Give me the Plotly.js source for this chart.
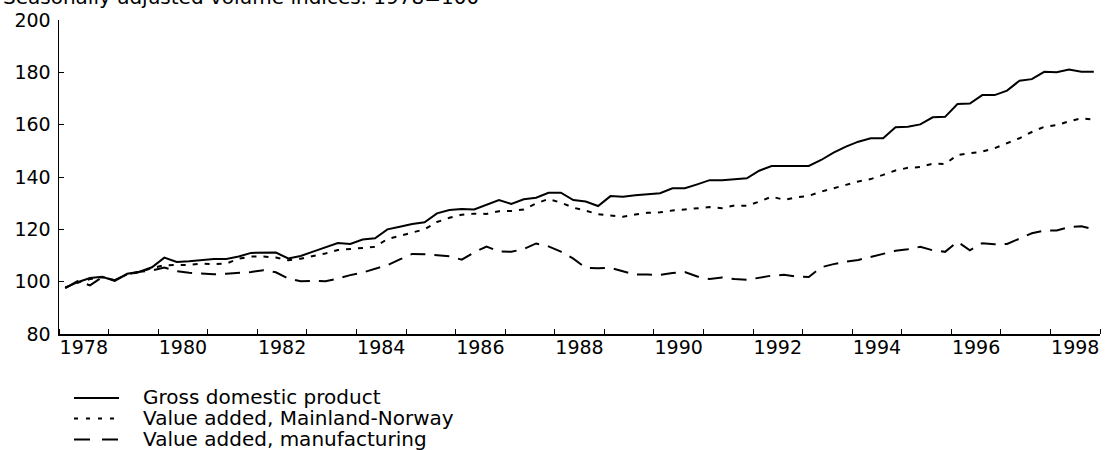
<!DOCTYPE html>
<html>
<head>
<meta charset="utf-8">
<script src="https://cdn.plot.ly/plotly-3.0.1.min.js"></script>
<style>
  html, body { margin: 0; padding: 0; background: #fff; }
  #chart { width: 1105px; height: 450px; }
</style>
</head>
<body>
<div id="chart"></div>
<script>
// ---- Data (quarterly, 1978Q1 - 1998Q4), seasonally adjusted volume indices, 1978=100 ----
const startYear = 1978;
const quartersPerYear = 4;

const gdp = [
  97.6, 99.8, 101.4, 101.9, 100.3, 103.0, 103.8, 105.5,
  109.2, 107.5, 107.8, 108.3, 108.7, 108.7, 109.6, 111.0,
  111.1, 111.1, 108.9, 109.8, 111.5, 113.0, 114.8, 114.4,
  116.1, 116.6, 120.0, 121.0, 122.0, 122.7, 126.1, 127.4,
  127.8, 127.6, 129.3, 131.2, 129.7, 131.5, 132.1, 134.0,
  134.0, 131.2, 130.6, 128.9, 132.7, 132.5, 133.0, 133.5,
  133.8, 135.7, 135.7, 137.2, 138.8, 138.8, 139.1, 139.5,
  142.4, 144.2, 144.2, 144.2, 144.2, 146.5, 149.3, 151.6,
  153.5, 154.8, 154.8, 159.0, 159.2, 160.1, 162.8, 163.0,
  167.9, 168.1, 171.3, 171.3, 173.0, 176.8, 177.4, 180.2,
  180.0, 181.1, 180.2, 180.2
];

const mainland = [
  97.8, 99.6, 101.0, 101.7, 100.5, 102.8, 103.6, 105.2,
  106.3, 106.4, 106.4, 106.9, 106.7, 106.9, 108.8, 109.6,
  109.6, 109.2, 108.2, 108.8, 109.8, 110.8, 112.1, 112.5,
  112.9, 113.3, 116.3, 117.6, 118.8, 120.0, 122.8, 124.4,
  125.6, 126.0, 125.9, 126.9, 127.0, 127.6, 129.9, 131.6,
  130.2, 128.3, 127.1, 125.8, 125.3, 124.8, 125.7, 126.3,
  126.5, 127.2, 127.6, 128.0, 128.5, 128.1, 129.1, 129.0,
  130.6, 132.5, 131.3, 132.2, 132.8, 134.4, 135.6, 137.0,
  138.3, 139.2, 140.8, 142.5, 143.5, 143.8, 145.1, 145.0,
  148.4, 149.0, 149.7, 151.0, 152.8, 154.8, 157.2, 159.2,
  159.8, 161.3, 162.4, 162.0
];

const manufacturing = [
  97.5, 100.2, 98.6, 101.8, 100.6, 102.8, 103.8, 104.3,
  105.4, 104.0, 103.4, 103.0, 102.8, 103.0, 103.3, 103.7,
  104.4, 103.6, 101.2, 100.2, 100.3, 100.2, 101.2, 102.5,
  103.5, 105.0, 106.3, 108.5, 110.6, 110.5, 110.2, 109.7,
  108.4, 111.2, 113.4, 111.6, 111.4, 112.5, 114.6, 113.5,
  111.5, 108.8, 105.3, 105.1, 105.3, 104.0, 102.7, 102.7,
  102.6, 103.3, 103.7, 102.0, 101.0, 101.6, 101.0, 100.7,
  101.5, 102.3, 102.6, 102.0, 101.8, 105.5, 106.7, 107.7,
  108.3, 109.5, 110.8, 111.8, 112.4, 113.3, 112.0, 111.4,
  115.3, 112.0, 114.7, 114.3, 114.4, 116.5, 118.5, 119.5,
  119.6, 120.8, 121.2, 120.0
];

const seriesNames = [
  "Gross domestic product",
  "Value added, Mainland-Norway",
  "Value added, manufacturing"
];
const tickYears = [1978, 1980, 1982, 1984, 1986, 1988, 1990, 1992, 1994, 1996, 1998];
const yTicks = [80, 100, 120, 140, 160, 180, 200];
const titleText = "Seasonally adjusted volume indices. 1978=100";

// ---- Layout helpers ----
const W = 1105, H = 450;
const M = { l: 59, r: 5, t: 20, b: 116 };
const PW = W - M.l - M.r, PH = H - M.t - M.b;
const px2x = px => (px - M.l) / PW;
const px2y = py => (H - M.b - py) / PH;
const FONT = "DejaVu Sans";

// quarter midpoints on a continuous year axis
const xq = gdp.map((_, i) => startYear + (i + 0.5) / quartersPerYear);

const styles = [
  { dash: "solid", legendDash: "solid" },
  { dash: "5px,7px", legendDash: "4px,8px" },
  { dash: "15px,9px", legendDash: "16px,12px" }
];
const series = [gdp, mainland, manufacturing];

const traces = series.map((ys, k) => ({
  type: "scatter",
  mode: "lines",
  x: xq,
  y: ys,
  name: seriesNames[k],
  line: { color: "#000", width: 2, dash: styles[k].dash },
  hoverinfo: "skip"
}));

// manual legend (line sample + label) below the plot
const legendRowsPx = [398, 418.5, 439.5];
const shapes = [];
const annotations = [];
seriesNames.forEach((nm, k) => {
  shapes.push({
    type: "line", xref: "paper", yref: "paper",
    x0: px2x(74), x1: px2x(119),
    y0: px2y(legendRowsPx[k]), y1: px2y(legendRowsPx[k]),
    line: { color: "#000", width: 2, dash: styles[k].legendDash }
  });
  annotations.push({
    xref: "paper", yref: "paper",
    x: px2x(141), y: px2y(legendRowsPx[k] - 1),
    xanchor: "left", yanchor: "middle",
    text: nm, showarrow: false,
    font: { family: FONT, size: 20, color: "#000" }
  });
});

// title (mostly cut at the top of the picture, as in the original)
annotations.push({
  xref: "paper", yref: "paper",
  x: px2x(481), y: px2y(-3),
  xanchor: "right", yanchor: "middle",
  text: titleText, showarrow: false,
  font: { family: FONT, size: 20, color: "#000" }
});

const years = [];
for (let y = startYear; y <= 1999; y++) years.push(y);

const layout = {
  width: W, height: H,
  margin: M,
  paper_bgcolor: "#fff",
  plot_bgcolor: "#fff",
  showlegend: false,
  font: { family: FONT, color: "#000" },
  xaxis: {
    range: [1978, 1999],
    tickmode: "array",
    tickvals: tickYears.map(y => y + 0.5),
    ticktext: tickYears.map(String),
    ticks: "",
    ticklabelstandoff: -4,
    showline: true, linecolor: "#000", linewidth: 1.5,
    showgrid: false, zeroline: false,
    tickfont: { family: FONT, size: 19, color: "#000" },
    minor: {
      tickmode: "array",
      tickvals: years,
      ticks: "inside", ticklen: 5, tickwidth: 1, tickcolor: "#000",
      showgrid: false
    },
    fixedrange: true
  },
  yaxis: {
    range: [80, 200],
    tickmode: "array",
    tickvals: yTicks,
    ticktext: yTicks.map(String),
    ticks: "inside", ticklen: 5, tickwidth: 1, tickcolor: "#000",
    ticklabelstandoff: 3,
    showline: true, linecolor: "#000", linewidth: 1.5,
    showgrid: false, zeroline: false,
    tickfont: { family: FONT, size: 19, color: "#000" },
    fixedrange: true
  },
  shapes: shapes,
  annotations: annotations
};

Plotly.newPlot("chart", traces, layout, { staticPlot: true, displayModeBar: false });
</script>
</body>
</html>
